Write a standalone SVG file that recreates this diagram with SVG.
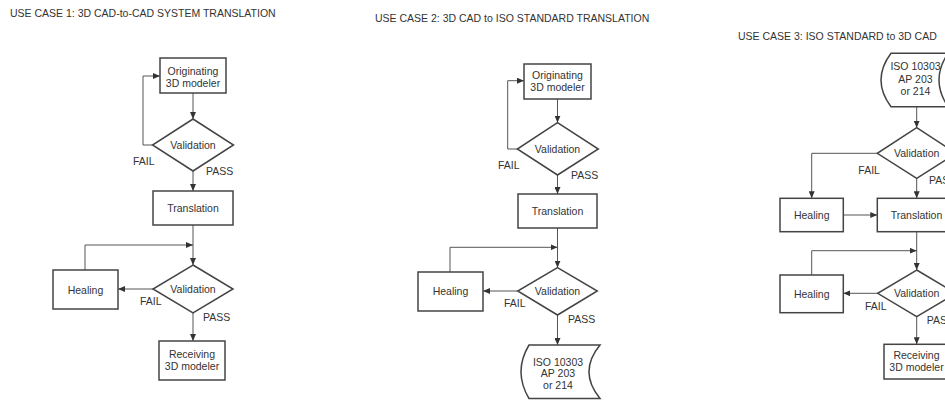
<svg xmlns="http://www.w3.org/2000/svg" width="945" height="400" viewBox="0 0 945 400">
<style>
text{font-family:"Liberation Sans",Arial,sans-serif;fill:#333;font-size:10.5px}
.c{text-anchor:middle}
.title{font-size:10.5px}
.box{fill:#fff;stroke:#444;stroke-width:1.5}
.con{fill:none;stroke:#555;stroke-width:1}
</style>
<defs>
<marker id="ah" markerUnits="userSpaceOnUse" markerWidth="8" markerHeight="6" refX="7" refY="3" orient="auto">
<path d="M0,0 L7,3 L0,6 z" fill="#333"/>
</marker>
</defs>
<rect width="945" height="400" fill="#fff"/>

<g id="titles">
<text class="title" x="10" y="17">USE CASE 1: 3D CAD-to-CAD SYSTEM TRANSLATION</text>
<text class="title" x="375" y="22">USE CASE 2: 3D CAD to ISO STANDARD TRANSLATION</text>
<text class="title" x="738" y="39.5">USE CASE 3: ISO STANDARD to 3D CAD</text>
</g>

<g id="connectors">
<!-- diagram 1 -->
<path class="con" d="M193,93 V119" marker-end="url(#ah)"/>
<path class="con" d="M152.5,145 H143 V76 H160" marker-end="url(#ah)"/>
<path class="con" d="M193,171 V191" marker-end="url(#ah)"/>
<path class="con" d="M193,225 V265" marker-end="url(#ah)"/>
<path class="con" d="M85,270 V245 H193" marker-end="url(#ah)"/>
<path class="con" d="M153,289 H118" marker-end="url(#ah)"/>
<path class="con" d="M193,313 V341" marker-end="url(#ah)"/>
<!-- diagram 2 -->
<path class="con" d="M557.5,99 V122.7" marker-end="url(#ah)"/>
<path class="con" d="M517.3,149 H507.7 V80.7 H524" marker-end="url(#ah)"/>
<path class="con" d="M557.5,175 V194" marker-end="url(#ah)"/>
<path class="con" d="M557.5,228 V267.7" marker-end="url(#ah)"/>
<path class="con" d="M450,272 V247.3 H557.5" marker-end="url(#ah)"/>
<path class="con" d="M517.7,291 H483" marker-end="url(#ah)"/>
<path class="con" d="M557.5,315 V345" marker-end="url(#ah)"/>
<!-- diagram 3 -->
<path class="con" d="M916.7,106.7 V127.7" marker-end="url(#ah)"/>
<path class="con" d="M877.3,153.3 H811.7 V198.3" marker-end="url(#ah)"/>
<path class="con" d="M916.7,178.3 V198.3" marker-end="url(#ah)"/>
<path class="con" d="M843.3,215 H877.3" marker-end="url(#ah)"/>
<path class="con" d="M916.7,231.7 V270" marker-end="url(#ah)"/>
<path class="con" d="M811.7,275 V250.7 H916.7" marker-end="url(#ah)"/>
<path class="con" d="M877.7,293.3 H843.3" marker-end="url(#ah)"/>
<path class="con" d="M916.7,316.7 V344.3" marker-end="url(#ah)"/>
</g>

<g id="labels">
<text x="133" y="165">FAIL</text>
<text x="206" y="175">PASS</text>
<text x="140" y="305">FAIL</text>
<text x="203" y="321">PASS</text>
<text x="498" y="169">FAIL</text>
<text x="571" y="178.5">PASS</text>
<text x="504" y="306.5">FAIL</text>
<text x="568" y="322.5">PASS</text>
<text x="858.3" y="173.5">FAIL</text>
<text x="929" y="184">PASS</text>
<text x="865" y="309.5">FAIL</text>
<text x="926.7" y="324">PASS</text>
</g>

<!-- Diagram 1 nodes -->
<g id="d1-originating">
<rect class="box" x="160" y="58" width="66" height="35"/>
<text class="c" x="193" y="74.5">Originating</text>
<text class="c" x="193" y="86.5">3D modeler</text>
</g>
<g id="d1-validation1">
<polygon class="box" points="193,119 233.5,145 193,171 152.5,145"/>
<text class="c" x="193" y="148.5">Validation</text>
</g>
<g id="d1-translation">
<rect class="box" x="153" y="191" width="80" height="34"/>
<text class="c" x="193" y="211.5">Translation</text>
</g>
<g id="d1-validation2">
<polygon class="box" points="193,265 233,289 193,313 153,289"/>
<text class="c" x="193" y="292.5">Validation</text>
</g>
<g id="d1-healing">
<rect class="box" x="53" y="270" width="65" height="39"/>
<text class="c" x="85.5" y="293.5">Healing</text>
</g>
<g id="d1-receiving">
<rect class="box" x="159" y="341" width="66" height="39"/>
<text class="c" x="192" y="358">Receiving</text>
<text class="c" x="192" y="370">3D modeler</text>
</g>

<!-- Diagram 2 nodes -->
<g id="d2-originating">
<rect class="box" x="524" y="64" width="67" height="35"/>
<text class="c" x="557.5" y="78.5">Originating</text>
<text class="c" x="557.5" y="90.5">3D modeler</text>
</g>
<g id="d2-validation1">
<polygon class="box" points="557.5,122.7 598.3,149 557.5,175 517.3,149"/>
<text class="c" x="557.5" y="152.5">Validation</text>
</g>
<g id="d2-translation">
<rect class="box" x="518" y="194" width="79" height="34"/>
<text class="c" x="557.5" y="214.5">Translation</text>
</g>
<g id="d2-validation2">
<polygon class="box" points="557.5,267.7 597.3,291 557.5,315 517.7,291"/>
<text class="c" x="557.5" y="294.5">Validation</text>
</g>
<g id="d2-healing">
<rect class="box" x="418" y="272" width="65" height="39"/>
<text class="c" x="450.5" y="295">Healing</text>
</g>
<g id="d2-iso">
<path class="box" d="M529,345 H600 Q578,371.7 600,398.5 H529 Q513,371.7 529,345 Z"/>
<text class="c" x="558" y="365.5">ISO 10303</text>
<text class="c" x="558" y="377">AP 203</text>
<text class="c" x="558" y="388.5">or 214</text>
</g>

<!-- Diagram 3 nodes -->
<g id="d3-iso">
<path class="box" d="M891,53.3 H948 Q930,80 948,106.7 H891 Q871,80 891,53.3 Z"/>
<text class="c" x="915.5" y="69.5">ISO 10303</text>
<text class="c" x="915.5" y="82.5">AP 203</text>
<text class="c" x="915.5" y="95">or 214</text>
</g>
<g id="d3-validation1">
<polygon class="box" points="916.7,127.7 956,153.3 916.7,178.3 877.3,153.3"/>
<text class="c" x="916.7" y="157">Validation</text>
</g>
<g id="d3-healing1">
<rect class="box" x="780" y="198.3" width="63.3" height="33.4"/>
<text class="c" x="811.7" y="218.5">Healing</text>
</g>
<g id="d3-translation">
<rect class="box" x="877.3" y="198.3" width="79" height="33.4"/>
<text class="c" x="916.5" y="219">Translation</text>
</g>
<g id="d3-validation2">
<polygon class="box" points="916.7,270 956,293.3 916.7,316.7 877.7,293.3"/>
<text class="c" x="916.7" y="297">Validation</text>
</g>
<g id="d3-healing2">
<rect class="box" x="780" y="275" width="63.3" height="37.7"/>
<text class="c" x="811.7" y="297.5">Healing</text>
</g>
<g id="d3-receiving">
<rect class="box" x="884" y="344.3" width="66" height="34.7"/>
<text class="c" x="916.5" y="359">Receiving</text>
<text class="c" x="916.5" y="371">3D modeler</text>
</g>
</svg>
